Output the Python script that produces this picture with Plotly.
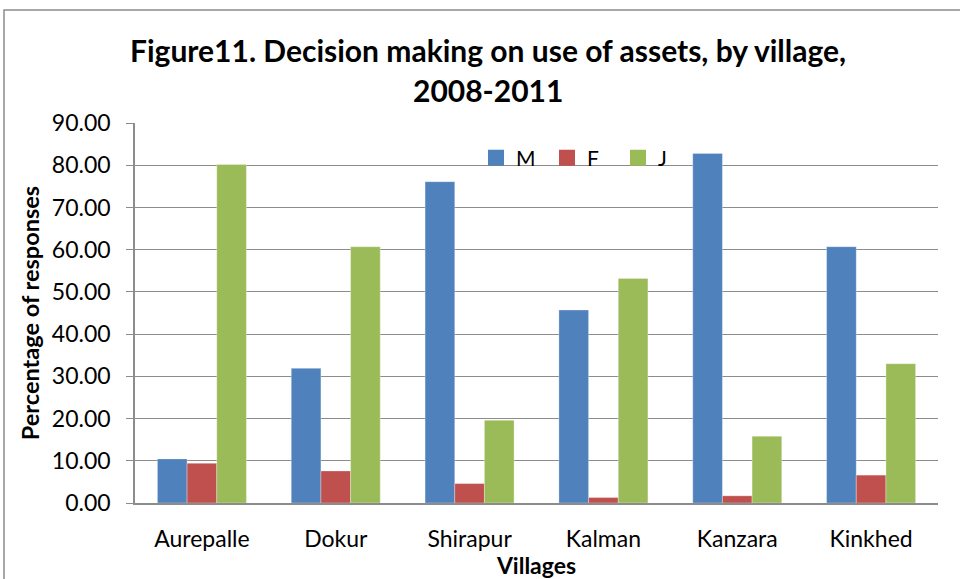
import plotly.graph_objects as go

villages = ["Aurepalle", "Dokur", "Shirapur", "Kalman", "Kanzara", "Kinkhed"]
m_vals = [10.45, 31.9, 76.1, 45.7, 82.8, 60.7]
f_vals = [9.4, 7.6, 4.6, 1.3, 1.7, 6.6]
j_vals = [80.2, 60.7, 19.6, 53.2, 15.8, 33.0]
series_names = ["M", "F", "J"]
series_colors = ["#4F81BD", "#C0504D", "#9BBB59"]
y_ticks = [0, 10, 20, 30, 40, 50, 60, 70, 80, 90]
y_tick_text = [f"{v:.2f}" for v in y_ticks]

FONT = "Lato"
fig = go.Figure()
for name, vals, col in zip(series_names, [m_vals, f_vals, j_vals], series_colors):
    fig.add_trace(go.Bar(x=villages, y=vals, name=name, showlegend=False,
                         marker=dict(color=col, line=dict(color="rgba(255,255,255,0.5)", width=0.6))))
for name, col in zip(series_names, series_colors):
    fig.add_trace(go.Scatter(x=[None], y=[None], mode="markers", name=name,
                             marker=dict(symbol="square", size=16, color=col)))

W, H = 960, 579
L, R, T, B = 135, 22, 123, 76
pw = W - L - R
ph = H - T - B

def px_x(x):
    return (x - L) / pw

def px_y(y):
    return (H - B - y) / ph

fig.update_layout(
    width=W, height=H,
    margin=dict(l=L, r=R, t=T, b=B, autoexpand=False),
    paper_bgcolor="white", plot_bgcolor="white",
    barmode="group", bargap=0.335, bargroupgap=0,
    font=dict(family=FONT, color="black"),
    showlegend=True,
    legend=dict(orientation="h", x=px_x(476), y=px_y(158), xanchor="left", yanchor="middle",
                font=dict(size=21, family=FONT), bgcolor="rgba(0,0,0,0)", itemwidth=30,
                traceorder="normal", entrywidth=26),
    xaxis=dict(showline=True, linecolor="#8c8c8c", linewidth=1.5, ticks="", showgrid=False,
               tickfont=dict(size=23, family=FONT), ticklabelstandoff=15,
               title=dict(text="<b>Villages</b>", font=dict(size=23, family=FONT), standoff=3)),
    yaxis=dict(range=[0, 90], tickvals=y_ticks, ticktext=y_tick_text, showline=True,
               linecolor="#8c8c8c", linewidth=1.5, ticks="outside", ticklen=7, tickcolor="#8c8c8c",
               showgrid=True, gridcolor="#8c8c8c", gridwidth=1.3, zeroline=False,
               tickfont=dict(size=23, family=FONT), ticklabelstandoff=11,
               title=dict(text="<b>Percentage of responses</b>", font=dict(size=23.5, family=FONT), standoff=6)),
    annotations=[
        dict(text="<b>Figure11. Decision making on use of assets, by village,</b>", xref="paper", yref="paper",
             x=px_x(488), y=px_y(50), xanchor="center", yanchor="middle", showarrow=False,
             font=dict(size=30, family=FONT)),
        dict(text="<b>2008-2011</b>", xref="paper", yref="paper",
             x=px_x(488), y=px_y(90), xanchor="center", yanchor="middle", showarrow=False,
             font=dict(size=30, family=FONT)),
    ],
    shapes=[dict(type="rect", xref="paper", yref="paper", x0=px_x(4), y0=px_y(620), x1=px_x(1000), y1=px_y(10),
                 line=dict(color="#8c8c8c", width=1.5), layer="below")],
)
fig.write_html("out.html", config={"displayModeBar": False},
               post_script="document.body.style.margin='0';document.body.style.overflow='hidden';")
